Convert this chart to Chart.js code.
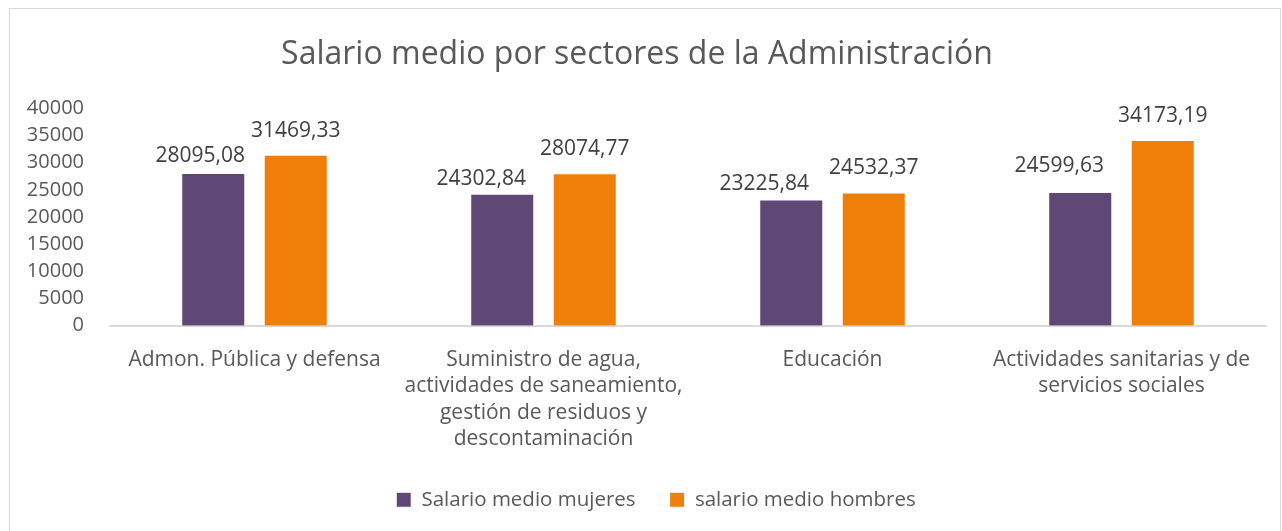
<!DOCTYPE html>
<html>
<head>
<meta charset="utf-8">
<script src="https://cdn.jsdelivr.net/npm/chart.js@4"></script>
<style>
  body { margin: 0; background: #fff; }
  #frame { position: absolute; left: 9px; top: 8px; width: 1270px; height: 530px;
           border: 1px solid #d9d9d9; border-bottom: none; }
  #chart-01 { position: absolute; left: 0; top: 0; }
</style>
</head>
<body>
<div id="frame"></div>
<canvas id="chart-01" width="1282" height="531"></canvas>
<script>
const categories = [
    'Admon. Pública y defensa',
    ['Suministro de agua,', 'actividades de saneamiento,', 'gestión de residuos y', 'descontaminación'],
    'Educación',
    ['Actividades sanitarias y de', 'servicios sociales']
];
const mujeres = [28095.08, 24302.84, 23225.84, 24599.63];
const hombres = [31469.33, 28074.77, 24532.37, 34173.19];

const FONT = '"Open Sans", sans-serif';

// draws the value above each bar, with a comma as decimal mark
// (the women's labels were nudged by hand in the original, hence the shifts)
const barLabels = {
    id: 'barLabels',
    afterDatasetsDraw(chart, args, opts) {
        const ctx = chart.ctx;
        ctx.save();
        ctx.font = '21px ' + FONT;
        ctx.fillStyle = '#404040';
        ctx.textAlign = 'center';
        ctx.textBaseline = 'alphabetic';
        chart.data.datasets.forEach((ds, i) => {
            chart.getDatasetMeta(i).data.forEach((bar, j) => {
                const txt = ds.data[j].toFixed(2).replace('.', ',');
                const s = (opts.shift[i] && opts.shift[i][j]) || [0, 0];
                ctx.fillText(txt, bar.x + s[0], bar.y - 18 + s[1]);
            });
        });
        ctx.restore();
    }
};

// legend sits a bit right of centre in the original
const legendNudge = {
    id: 'legendNudge',
    afterLayout(chart) {
        chart.legend.left += 19;
        chart.legend.right += 19;
    }
};

const ctx = document.getElementById('chart-01').getContext('2d');

const myChart = new Chart(ctx, {
    type: 'bar',
    data: {
        labels: categories,
        datasets: [{
            label: 'Salario medio mujeres',
            data: mujeres,
            backgroundColor: '#5f4876',
            borderColor: '#ffffff',
            borderWidth: 1,
            categoryPercentage: 0.571,
            barPercentage: 0.776
        },
        {
            label: 'salario medio hombres',
            data: hombres,
            backgroundColor: '#f07f0a',
            borderColor: '#ffffff',
            borderWidth: 1,
            categoryPercentage: 0.571,
            barPercentage: 0.776
        }]
    },
    options: {
        responsive: false,
        animation: false,
        layout: { padding: { top: 36, left: 8, right: 16, bottom: 11 } },
        plugins: {
            title: {
                display: true,
                text: 'Salario medio por sectores de la Administración',
                color: '#595959',
                font: { family: FONT, size: 32, weight: 'normal' },
                padding: { top: 0, bottom: 34 }
            },
            legend: {
                position: 'bottom',
                labels: {
                    color: '#595959',
                    font: { family: FONT, size: 20.5 },
                    boxWidth: 15,
                    boxHeight: 15,
                    padding: 34
                }
            },
            tooltip: { enabled: false },
            barLabels: {
                shift: [[[-13, 7], [-21, 9], [-27, 8], [-21, -2]], []]
            }
        },
        scales: {
            x: {
                grid: { display: false },
                border: { display: true, color: '#d9d9d9', width: 2 },
                afterFit(scale) { scale.height -= 10; },
                ticks: {
                    color: '#595959',
                    font: { family: FONT, size: 21, lineHeight: 1.26 },
                    maxRotation: 0,
                    padding: 13
                }
            },
            y: {
                min: 0,
                max: 40000,
                grid: { display: false },
                border: { display: false },
                afterFit(scale) { scale.width = 102; },
                ticks: {
                    stepSize: 5000,
                    autoSkip: false,
                    color: '#595959',
                    font: { family: FONT, size: 20 },
                    padding: 18,
                    callback: (v) => String(v)
                }
            }
        }
    },
    plugins: [barLabels, legendNudge]
});
</script>
</body>
</html>
